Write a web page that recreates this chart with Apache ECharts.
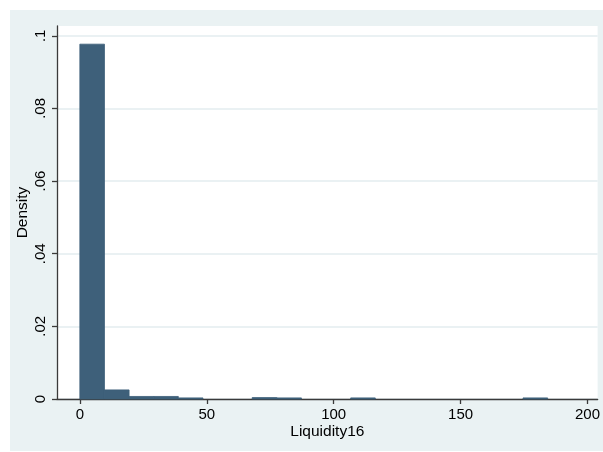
<!DOCTYPE html>
<html>
<head>
<meta charset="utf-8">
<script src="https://cdn.jsdelivr.net/npm/echarts@6/dist/echarts.min.js"></script>
<style>
  html, body { margin: 0; padding: 0; background: #ffffff; }
  #chart { width: 603px; height: 452px; }
</style>
</head>
<body>
<div id="chart"></div>
<script>
// Histogram of Liquidity16 (Stata-style density histogram)
const binWidth = 9.7;
const binStarts = [0, 9.7, 19.4, 29.1, 38.8, 67.9, 77.6, 106.7, 174.6];
const densities = [0.0977, 0.0025, 0.0007, 0.0007, 0.0003, 0.0004, 0.0003, 0.0003, 0.0003];
const xTicks = [0, 50, 100, 150, 200];
const yTicks = [0, 0.02, 0.04, 0.06, 0.08, 0.1];
const xTitle = 'Liquidity16';
const yTitle = 'Density';

const FONT = '"Liberation Sans", Arial, Helvetica, sans-serif';
const BAR = '#3e607a';
const AXIS = '#3a3a3a';

const chart = echarts.init(document.getElementById('chart'), null, { renderer: 'canvas' });

const data = binStarts.map((s, i) => [s, s + binWidth, densities[i]]);

chart.setOption({
  animation: false,
  backgroundColor: '#ffffff',
  textStyle: { fontFamily: FONT },
  graphic: [{
    type: 'rect',
    z: -10,
    silent: true,
    shape: { x: 10, y: 10, width: 593, height: 441 },
    style: { fill: '#eaf2f3' }
  }],
  grid: {
    left: 57, right: 3, top: 26, bottom: 53,
    show: true, backgroundColor: '#ffffff', borderWidth: 0,
    containLabel: false
  },
  xAxis: {
    type: 'value',
    min: -9, max: 204,
    name: xTitle,
    nameLocation: 'middle',
    nameGap: 25,
    nameMoveOverlap: false,
    nameTextStyle: { fontFamily: FONT, fontSize: 15.5, color: '#000' },
    axisLine: { show: true, onZero: false, lineStyle: { color: AXIS, width: 1.3 } },
    axisTick: { show: true, length: 5, customValues: xTicks, lineStyle: { color: AXIS, width: 1.3 } },
    axisLabel: { customValues: xTicks, fontFamily: FONT, fontSize: 15, color: '#000', margin: 8 },
    splitLine: { show: false }
  },
  yAxis: {
    type: 'value',
    min: 0, max: 0.1027,
    name: yTitle,
    nameLocation: 'middle',
    nameGap: 26,
    nameRotate: 90,
    nameMoveOverlap: false,
    nameTextStyle: { fontFamily: FONT, fontSize: 15.5, color: '#000' },
    axisLine: { show: true, onZero: false, lineStyle: { color: AXIS, width: 1.3 } },
    axisTick: { show: true, length: 5, customValues: yTicks, lineStyle: { color: AXIS, width: 1.3 } },
    axisLabel: {
      customValues: yTicks,
      rotate: 90,
      fontFamily: FONT, fontSize: 15, color: '#000', margin: 9,
      formatter: v => (v === 0 ? '0' : String(+v.toFixed(4)).replace(/^0/, ''))
    },
    splitLine: { show: true, lineStyle: { color: '#eaf1f3', width: 2 } }
  },
  series: [{
    type: 'custom',
    data: data,
    encode: { x: [0, 1], y: 2 },
    renderItem: function (params, api) {
      const x0 = api.value(0), x1 = api.value(1), h = api.value(2);
      const p0 = api.coord([x0, 0]);
      const p1 = api.coord([x1, h]);
      return {
        type: 'rect',
        shape: { x: p0[0], y: p1[1], width: p1[0] - p0[0], height: p0[1] - p1[1] },
        style: { fill: BAR, stroke: BAR, lineWidth: 0.8 }
      };
    }
  }]
});
</script>
</body>
</html>
